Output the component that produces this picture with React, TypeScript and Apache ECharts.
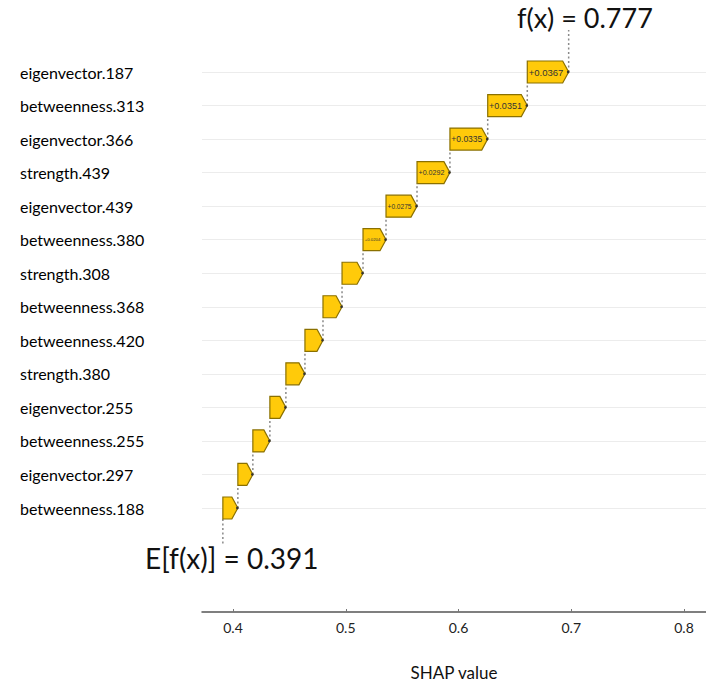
import React, { useEffect, useRef } from "react";
import * as echarts from "echarts";

// Features listed top to bottom
const features = [
  "eigenvector.187",
  "betweenness.313",
  "eigenvector.366",
  "strength.439",
  "eigenvector.439",
  "betweenness.380",
  "strength.308",
  "betweenness.368",
  "betweenness.420",
  "strength.380",
  "eigenvector.255",
  "betweenness.255",
  "eigenvector.297",
  "betweenness.188",
];

// SHAP contributions (top to bottom)
const contributions = [
  0.0367, 0.0351, 0.0335, 0.0292, 0.0275, 0.0204, 0.0186, 0.0169, 0.016,
  0.0169, 0.0142, 0.0151, 0.0133, 0.0133,
];

// Labels printed inside bars
const barLabels = [
  "+0.0367",
  "+0.0351",
  "+0.0335",
  "+0.0292",
  "+0.0275",
  "+0.0204",
  "",
  "",
  "",
  "",
  "",
  "",
  "",
  "",
];

const baseValue = 0.391;
const fxText = "f(x) = 0.777";
const efxText = "E[f(x)] = 0.391";
const xTicks = [0.4, 0.5, 0.6, 0.7, 0.8];
const xAxisName = "SHAP value";

export default function App() {
  const ref = useRef<HTMLDivElement>(null);

  useEffect(() => {
    if (!ref.current) return;
    const chart = echarts.init(ref.current, undefined, { renderer: "svg" });

    const n = features.length;
    const starts: number[] = new Array(n).fill(0);
    let acc = baseValue;
    for (let i = n - 1; i >= 0; i--) {
      starts[i] = acc;
      acc += contributions[i];
    }
    const data = features.map((f, i) => [starts[i], starts[i] + contributions[i], i]);

    const font = "Lato, 'Open Sans', sans-serif";

    chart.setOption({
      animation: false,
      grid: { left: 202, right: 0, top: 72, bottom: 692 - 508, containLabel: false },
      xAxis: {
        type: "value",
        min: 0.3725,
        max: 0.8195,
        offset: 104,
        axisLine: { show: true, lineStyle: { color: "#555", width: 1.5 } },
        axisTick: { show: true, customValues: xTicks, length: 3, inside: true, lineStyle: { color: "#777" } },
        axisLabel: {
          customValues: xTicks,
          margin: 8,
          fontFamily: font,
          fontSize: 14,
          color: "#222",
          formatter: (v: number) => v.toFixed(1),
        },
        splitLine: { show: false },
        name: xAxisName,
        nameLocation: "middle",
        nameGap: 52,
        nameTextStyle: { fontFamily: font, fontSize: 17, color: "#111" },
      },
      yAxis: {
        type: "category",
        data: features,
        inverse: true,
        boundaryGap: false,
        axisLine: { show: false },
        axisTick: { show: false },
        axisLabel: {
          align: "left",
          margin: 182,
          fontFamily: font,
          fontSize: 16,
          color: "#000",
        },
        splitLine: { show: true, lineStyle: { color: "#ececec", width: 1 } },
      },
      series: [
        {
          type: "custom",
          encode: { x: [0, 1], y: 2 },
          data,
          renderItem: (params: any, api: any) => {
            const s = api.value(0);
            const e = api.value(1);
            const idx = api.value(2);
            const p0 = api.coord([s, idx]);
            const p1 = api.coord([e, idx]);
            const band = api.size([0, 1])[1];
            const h = 22;
            const x0 = p0[0];
            const x1 = p1[0];
            const y = p0[1];
            const d = Math.min(6, (x1 - x0) * 0.4);
            const children: any[] = [];
            const dash = { stroke: "#8a8a8a", lineWidth: 1.5, lineDash: [2, 2.5] };
            if (idx === 0) {
              children.push({
                type: "line",
                shape: { x1: x1, y1: y, x2: x1, y2: y - 42 },
                style: dash,
              });
            } else {
              children.push({
                type: "line",
                shape: { x1: x1, y1: y, x2: x1, y2: y - band + h / 2 },
                style: dash,
              });
            }
            if (idx === n - 1) {
              children.push({
                type: "line",
                shape: { x1: x0, y1: y + h / 2, x2: x0, y2: y + 37 },
                style: dash,
              });
            }
            children.push({
              type: "polygon",
              shape: {
                points: [
                  [x0, y - h / 2],
                  [x1 - d, y - h / 2],
                  [x1, y],
                  [x1 - d, y + h / 2],
                  [x0, y + h / 2],
                ],
              },
              style: { fill: "#FFCA0A", stroke: "#8a7000", lineWidth: 1.2 },
            });
            children.push({
              type: "circle",
              shape: { cx: x1 - 0.5, cy: y, r: 1.3 },
              style: { fill: "#333" },
            });
            const lbl = barLabels[params.dataIndex];
            if (lbl) {
              const avail = x1 - d - x0 - 2;
              const fs = Math.min(10, avail / (lbl.length * 0.5));
              children.push({
                type: "text",
                style: {
                  text: lbl,
                  x: (x0 + x1 - d) / 2 + 1,
                  y: y,
                  align: "center",
                  verticalAlign: "middle",
                  fontFamily: "'Liberation Sans Narrow', Arial, 'Liberation Sans', sans-serif",
                  fontSize: fs,
                  fill: "#333",
                },
              });
            }
            return { type: "group", children };
          },
        },
      ],
      graphic: [
        {
          type: "text",
          left: 517,
          top: 4,
          style: { text: fxText, fontFamily: font, fontSize: 27, fill: "#111" },
        },
        {
          type: "text",
          left: 145,
          top: 544,
          style: { text: efxText, fontFamily: font, fontSize: 28, fill: "#111" },
        },
      ],
    });

    return () => chart.dispose();
  }, []);

  return (
    <div
      ref={ref}
      style={{ position: "fixed", left: 0, top: 0, width: 706, height: 692, background: "#fff" }}
    />
  );
}
